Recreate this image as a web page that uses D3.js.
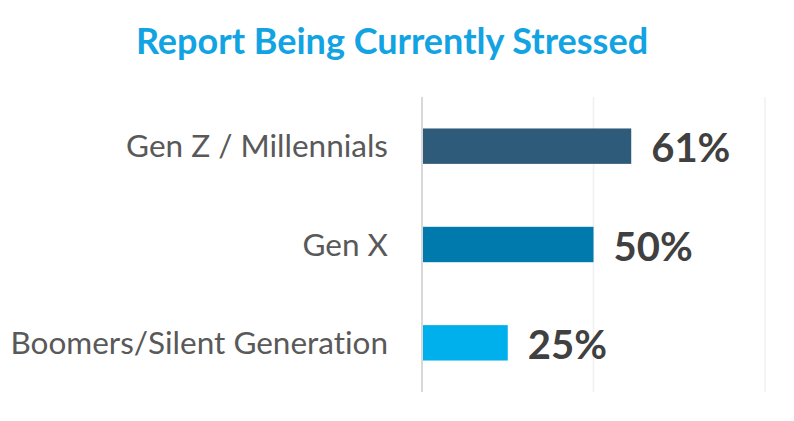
<!DOCTYPE html>
<html>
<head>
<meta charset="utf-8">
<script src="https://cdn.jsdelivr.net/npm/d3@7"></script>
<style>
  body { margin: 0; background: #fff; }
  svg { display: block; font-family: Lato, "Open Sans", sans-serif; font-variant-ligatures: none; }
</style>
</head>
<body>
<svg id="chart" width="794" height="421"></svg>
<script>
const chartTitle = "Report Being Currently Stressed";
const categories = ["Gen Z / Millennials", "Gen X", "Boomers/Silent Generation"];
const values = [61, 50, 25];
const barColors = ["#2e5b7a", "#0079ad", "#00b0ec"];
const gridTicks = [0, 50, 100];

const svg = d3.select("#chart");

const x = d3.scaleLinear()
  .domain([0, 100])
  .range([422, 765]);

const y = d3.scaleBand()
  .domain(categories)
  .range([97, 392])
  .paddingInner(0.64)
  .paddingOuter(0.32);

// gridlines
svg.selectAll(".grid")
  .data(gridTicks)
  .join("line")
    .attr("class", "grid")
    .attr("x1", d => x(d))
    .attr("x2", d => x(d))
    .attr("y1", 97)
    .attr("y2", 392)
    .style("stroke", d => d == 0 ? "#d9d9d9" : "#f0f0f0")
    .style("stroke-width", d => d == 0 ? 2 : 1.5);

svg.selectAll(".bar")
  .data(categories)
  .join("rect")
    .attr("class", "bar")
    .attr("x", x(0) + 1)
    .attr("y", d => y(d))
    .attr("width", (d, i) => x(values[i]) - x(0) - 1)
    .attr("height", y.bandwidth())
    .attr("fill", (d, i) => barColors[i]);

svg.selectAll(".cat_label")
  .data(categories)
  .join("text")
    .attr("class", "cat_label")
    .attr("x", 388)
    .attr("y", d => y(d) + y.bandwidth() / 2)
    .attr("dy", "0.35em")
    .attr("text-anchor", "end")
    .style("font-size", "31.5px")
    .style("fill", "#595959")
    .text(d => d);

svg.selectAll(".val_label")
  .data(categories)
  .join("text")
    .attr("class", "val_label")
    .attr("x", (d, i) => x(values[i]) + 20)
    .attr("y", d => y(d) + y.bandwidth() / 2 + 2)
    .attr("dy", "0.35em")
    .style("font-size", "40px")
    .style("font-weight", "bold")
    .style("fill", "#404040")
    .text((d, i) => values[i] + "%");

svg.append("text")
  .attr("x", 392)
  .attr("y", 54)
  .attr("text-anchor", "middle")
  .style("font-size", "36px")
  .style("font-weight", "bold")
  .style("fill", "#12a3e3")
  .text(chartTitle);
</script>
</body>
</html>
